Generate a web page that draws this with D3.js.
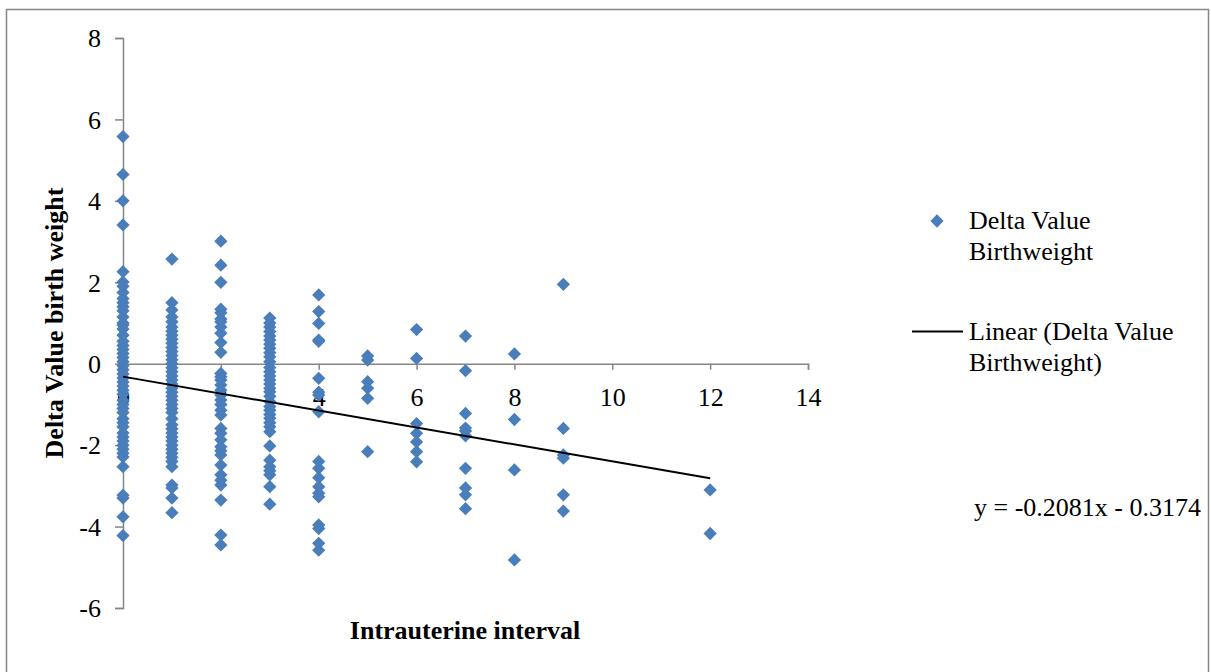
<!DOCTYPE html>
<html>
<head>
<meta charset="utf-8">
<script src="https://cdn.jsdelivr.net/npm/d3@7"></script>
<style>
  html, body { margin: 0; padding: 0; background: #fff; }
  svg { display: block; }
  text { font-family: "Liberation Serif", "Times New Roman", serif; fill: #000; }
</style>
</head>
<body>
<svg id="chart" width="1211" height="672"></svg>
<script>
// ---- data ----
const intervals = [0, 1, 2, 3, 4, 5, 6, 7, 8, 9, 12];
const deltaAt0 = [5.58, 4.65, 4.0, 3.41, 2.26, 2.01, 1.9, 1.75, 1.6, 1.5, 1.4, 1.3, 1.15, 1.0, 0.95, 0.85, 0.7, 0.55, 0.45, 0.35, 0.25, 0.15, 0.05, -0.05, -0.15, -0.25, -0.35, -0.45, -0.55, -0.65, -0.75, -0.9, -1.0, -1.1, -1.2, -1.35, -1.45, -1.55, -1.7, -1.8, -1.9, -2.0, -2.1, -2.2, -2.29, -2.53, -3.23, -3.3, -3.76, -4.22];
const deltaAt1 = [2.57, 1.5, 1.32, 1.15, 1.03, 0.9, 0.8, 0.7, 0.6, 0.5, 0.4, 0.3, 0.2, 0.1, 0.0, -0.1, -0.2, -0.3, -0.4, -0.5, -0.6, -0.7, -0.8, -0.9, -1.0, -1.1, -1.2, -1.35, -1.5, -1.6, -1.7, -1.8, -1.9, -2.0, -2.1, -2.2, -2.3, -2.4, -2.53, -2.98, -3.05, -3.3, -3.66];
const deltaAt2 = [3.01, 2.42, 2.0, 1.34, 1.25, 1.1, 1.03, 0.9, 0.75, 0.52, 0.28, -0.24, -0.32, -0.4, -0.52, -0.65, -0.77, -0.89, -1.0, -1.14, -1.26, -1.59, -1.71, -1.87, -2.04, -2.14, -2.24, -2.49, -2.73, -2.86, -2.98, -3.35, -4.21, -4.45];
const deltaAt3 = [1.12, 1.0, 0.9, 0.79, 0.68, 0.58, 0.48, 0.38, 0.27, 0.17, 0.05, -0.09, -0.2, -0.3, -0.4, -0.5, -0.6, -0.69, -0.8, -0.93, -1.05, -1.14, -1.25, -1.34, -1.45, -1.55, -1.67, -2.02, -2.37, -2.53, -2.63, -2.73, -3.02, -3.45];
const deltaAt4 = [1.69, 1.28, 0.99, 0.58, 0.55, -0.36, -0.7, -0.77, -1.18, -2.4, -2.57, -2.8, -3.02, -3.18, -3.27, -3.96, -4.05, -4.41, -4.58];
const deltaAt5 = [0.19, 0.09, -0.44, -0.6, -0.85, -2.16];
const deltaAt6 = [0.84, 0.13, -1.47, -1.71, -1.92, -2.16, -2.41];
const deltaAt7 = [0.68, -0.17, -1.22, -1.58, -1.65, -1.77, -2.57, -3.05, -3.22, -3.56];
const deltaAt8 = [0.24, -1.37, -2.61, -4.82];
const deltaAt9 = [1.95, -1.59, -2.24, -2.32, -3.22, -3.62];
const deltaAt12 = [-3.10, -4.17];
const deltaByInterval = [deltaAt0, deltaAt1, deltaAt2, deltaAt3, deltaAt4, deltaAt5, deltaAt6, deltaAt7, deltaAt8, deltaAt9, deltaAt12];

const trendSlope = -0.2081;
const trendIntercept = -0.3174;
const trendRange = [0, 12];

const xTicks = [0, 2, 4, 6, 8, 10, 12, 14];
const yTicks = [-6, -4, -2, 0, 2, 4, 6, 8];

const seriesName = ["Delta Value", "Birthweight"];
const trendName = ["Linear (Delta Value", "Birthweight)"];
const equationText = "y = -0.2081x - 0.3174";
const xTitle = "Intrauterine interval";
const yTitle = "Delta Value birth weight";

// ---- layout ----
const svg = d3.select("#chart");
const axisColor = "#868686";
const markColor = "#4A7EBB";
const fontSize = 26;
const serif = '"Liberation Serif", "Times New Roman", serif';

const x = d3.scaleLinear().domain([0, 14]).range([123, 808]);
const y = d3.scaleLinear().domain([-6, 8]).range([608, 38]);

const points = [];
intervals.forEach((iv, i) => deltaByInterval[i].forEach(v => points.push({x: iv, y: v})));

const fmt = d => String(d);

// outer border
svg.append("rect")
  .attr("x", 6.5).attr("y", 9.5)
  .attr("width", 1202).attr("height", 720)
  .attr("fill", "none").attr("stroke", axisColor).attr("stroke-width", 1.5);

// y axis
const yAxis = svg.append("g")
  .attr("transform", `translate(${x(0)},0)`)
  .call(d3.axisLeft(y).tickValues(yTicks).tickSize(8).tickPadding(14).tickFormat(fmt));
yAxis.attr("font-family", null);
yAxis.select(".domain").attr("stroke", axisColor).attr("stroke-width", 1.5);
yAxis.selectAll(".tick line").attr("stroke", axisColor).attr("stroke-width", 1.5);
yAxis.selectAll(".tick text")
  .style("font-family", serif).attr("font-size", fontSize).attr("fill", "#000")
  .attr("dy", "0.34em");

// x axis at y=0
const xAxis = svg.append("g")
  .attr("transform", `translate(0,${y(0)})`)
  .call(d3.axisBottom(x).tickValues(xTicks).tickSize(6).tickPadding(18).tickFormat(fmt));
xAxis.attr("font-family", null);
xAxis.select(".domain").attr("stroke", axisColor).attr("stroke-width", 1.5);
xAxis.selectAll(".tick line").attr("stroke", axisColor).attr("stroke-width", 1.5);
xAxis.selectAll(".tick text")
  .style("font-family", serif).attr("font-size", fontSize).attr("fill", "#000");

// points
const diamond = d3.symbol().type(d3.symbolSquare).size(88);
svg.append("g").selectAll("path")
  .data(points)
  .join("path")
  .attr("d", diamond)
  .attr("transform", d => `translate(${x(d.x)},${y(d.y)}) rotate(45)`)
  .attr("fill", markColor);

// trend line
const line = d3.line().x(d => x(d)).y(d => y(trendSlope * d + trendIntercept));
svg.append("path")
  .attr("d", line(trendRange))
  .attr("fill", "none").attr("stroke", "#000").attr("stroke-width", 2);

// axis titles
svg.append("text")
  .attr("x", 465).attr("y", 639)
  .attr("text-anchor", "middle")
  .attr("font-size", fontSize).attr("font-weight", "bold")
  .text(xTitle);

svg.append("text")
  .attr("transform", "translate(63,323) rotate(-90)")
  .attr("text-anchor", "middle")
  .attr("font-size", fontSize).attr("font-weight", "bold")
  .text(yTitle);

// legend
const legend = svg.append("g");
legend.append("path")
  .attr("d", diamond)
  .attr("transform", "translate(937,221) rotate(45)")
  .attr("fill", markColor);
legend.append("text").attr("x", 969).attr("y", 229).attr("font-size", fontSize).text(seriesName[0]);
legend.append("text").attr("x", 969).attr("y", 260).attr("font-size", fontSize).text(seriesName[1]);
legend.append("line")
  .attr("x1", 912).attr("x2", 963).attr("y1", 331.5).attr("y2", 331.5)
  .attr("stroke", "#000").attr("stroke-width", 2);
legend.append("text").attr("x", 969).attr("y", 340).attr("font-size", fontSize).text(trendName[0]);
legend.append("text").attr("x", 969).attr("y", 371).attr("font-size", fontSize).text(trendName[1]);

svg.append("text").attr("x", 1201).attr("y", 516)
  .attr("text-anchor", "end")
  .attr("font-size", fontSize).text(equationText);
</script>
</body>
</html>
